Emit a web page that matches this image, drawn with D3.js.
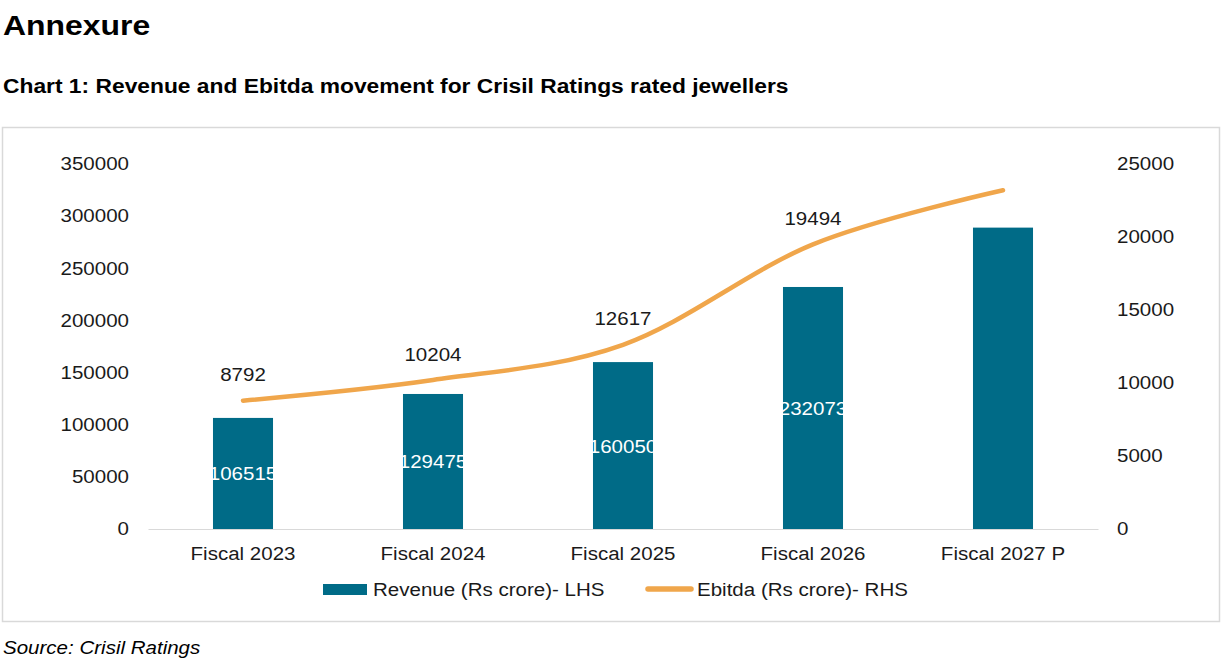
<!DOCTYPE html>
<html>
<head>
<meta charset="utf-8">
<script src="https://cdn.jsdelivr.net/npm/d3@7"></script>
<style>
    body { margin: 0; background: #fff; font-family: "Liberation Sans", Arial, sans-serif; }
    svg text { font-family: "Liberation Sans", Arial, sans-serif; }
</style>
</head>
<body>
<svg id="chart" width="1222" height="658"></svg>
<script>
// ---------------------------------------------------------------------------
// Data
// ---------------------------------------------------------------------------
const categories = ["Fiscal 2023", "Fiscal 2024", "Fiscal 2025", "Fiscal 2026", "Fiscal 2027 P"];
const revenue = [106515, 129475, 160050, 232073, 289000];
const ebitda = [8792, 10204, 12617, 19494, 23200];
const revenueLabels = ["106515", "129475", "160050", "232073", ""];
const ebitdaLabels = ["8792", "10204", "12617", "19494", ""];
const leftTicks = [0, 50000, 100000, 150000, 200000, 250000, 300000, 350000];
const rightTicks = [0, 5000, 10000, 15000, 20000, 25000];

const BAR_COLOR = "#006b87";
const LINE_COLOR = "#f0a64b";
const TEXT_COLOR = "#1a1a1a";
const TEXT_STRETCH = 1.14; // reference type is set a little wider than Arial

const svg = d3.select("#chart");

// Headings
svg.append("text")
    .attr("x", 3).attr("y", 35)
    .style("font-size", "28px").style("font-weight", "700")
    .attr("fill", "#000")
    .text("Annexure");

svg.append("text")
    .attr("x", 3).attr("y", 93)
    .style("font-size", "20px").style("font-weight", "700")
    .attr("fill", "#000")
    .text("Chart 1: Revenue and Ebitda movement for Crisil Ratings rated jewellers");

// Chart frame
svg.append("rect")
    .attr("x", 2.5).attr("y", 127.5)
    .attr("width", 1217).attr("height", 494)
    .attr("fill", "none")
    .attr("stroke", "#d9d9d9")
    .attr("stroke-width", 1.5);

// Source
svg.append("text")
    .attr("x", 3).attr("y", 654)
    .style("font-size", "18px").style("font-style", "italic")
    .attr("fill", "#000")
    .text("Source: Crisil Ratings");

// ---------------------------------------------------------------------------
// Scales
// ---------------------------------------------------------------------------
const plot = { left: 148, right: 1098, top: 164, bottom: 529 };

const x = d3.scaleBand()
    .domain(categories)
    .range([plot.left, plot.right])
    .paddingInner(0.684)
    .paddingOuter(0.342);

const yLeft = d3.scaleLinear().domain([0, 350000]).range([plot.bottom, plot.top]);
const yRight = d3.scaleLinear().domain([0, 25000]).range([plot.bottom, plot.top]);

// Axes (labels only)
const leftAxis = svg.append("g")
    .attr("transform", `translate(${plot.left},0)`)
    .call(d3.axisLeft(yLeft).tickValues(leftTicks).tickSize(0).tickPadding(19).tickFormat(d3.format("d")));
leftAxis.select(".domain").remove();

const rightAxis = svg.append("g")
    .attr("transform", `translate(${plot.right},0)`)
    .call(d3.axisRight(yRight).tickValues(rightTicks).tickSize(0).tickPadding(19).tickFormat(d3.format("d")));
rightAxis.select(".domain").remove();

const bottomAxis = svg.append("g")
    .attr("transform", `translate(0,${plot.bottom})`)
    .call(d3.axisBottom(x).tickSize(0).tickPadding(18));
bottomAxis.select(".domain").attr("stroke", "#d9d9d9").attr("stroke-width", 1.2);

svg.selectAll(".tick text")
    .style("font-size", "18px")
    .attr("fill", TEXT_COLOR);

// ---------------------------------------------------------------------------
// Bars
// ---------------------------------------------------------------------------
svg.append("g").selectAll("rect")
    .data(categories)
    .enter()
    .append("rect")
    .attr("x", d => x(d))
    .attr("y", (d, i) => yLeft(revenue[i]))
    .attr("width", x.bandwidth())
    .attr("height", (d, i) => plot.bottom - yLeft(revenue[i]))
    .attr("fill", BAR_COLOR);

svg.append("g").selectAll("text")
    .data(categories)
    .enter()
    .append("text")
    .attr("x", d => x(d) + x.bandwidth() / 2)
    .attr("y", (d, i) => (yLeft(revenue[i]) + plot.bottom) / 2 + 7)
    .attr("text-anchor", "middle")
    .style("font-size", "18px")
    .attr("fill", "#fff")
    .text((d, i) => revenueLabels[i]);

// ---------------------------------------------------------------------------
// Ebitda line
// ---------------------------------------------------------------------------
const line = d3.line()
    .x((d, i) => x(categories[i]) + x.bandwidth() / 2)
    .y(d => yRight(d))
    .curve(d3.curveCatmullRom.alpha(0));

svg.append("path")
    .datum(ebitda)
    .attr("fill", "none")
    .attr("stroke", LINE_COLOR)
    .attr("stroke-width", 4.5)
    .attr("stroke-linecap", "round")
    .attr("d", line);

svg.append("g").selectAll("text")
    .data(categories)
    .enter()
    .append("text")
    .attr("x", d => x(d) + x.bandwidth() / 2)
    .attr("y", (d, i) => yRight(ebitda[i]) - 19.5)
    .attr("text-anchor", "middle")
    .style("font-size", "18px")
    .attr("fill", TEXT_COLOR)
    .text((d, i) => ebitdaLabels[i]);

// ---------------------------------------------------------------------------
// Legend
// ---------------------------------------------------------------------------
const legend = svg.append("g").attr("transform", "translate(0,589)");

legend.append("rect")
    .attr("x", 323).attr("y", -5)
    .attr("width", 44).attr("height", 11)
    .attr("fill", BAR_COLOR);
legend.append("text")
    .attr("x", 373).attr("y", 7)
    .style("font-size", "18px")
    .attr("fill", TEXT_COLOR)
    .text("Revenue (Rs crore)- LHS");

legend.append("line")
    .attr("x1", 648).attr("x2", 691)
    .attr("y1", 0).attr("y2", 0)
    .attr("stroke", LINE_COLOR)
    .attr("stroke-width", 5.5)
    .attr("stroke-linecap", "round");
legend.append("text")
    .attr("x", 697).attr("y", 7)
    .style("font-size", "18px")
    .attr("fill", TEXT_COLOR)
    .text("Ebitda (Rs crore)- RHS");

// Widen every label to match the reference's letter widths
svg.selectAll("text").each(function () {
    const w = this.getComputedTextLength();
    if (w > 0) {
        d3.select(this)
            .attr("textLength", w * TEXT_STRETCH)
            .attr("lengthAdjust", "spacingAndGlyphs");
    }
});
</script>
</body>
</html>
